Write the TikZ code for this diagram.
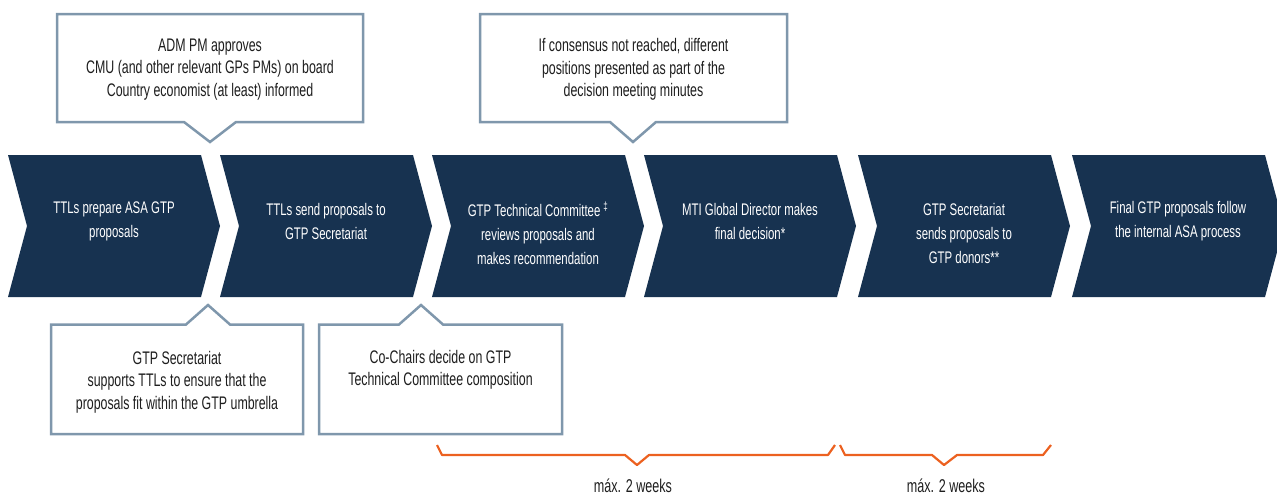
\documentclass[tikz,border=0pt]{standalone}
\usepackage{fontspec}
\setmainfont{Liberation Sans}[FakeStretch=0.68]
\definecolor{navy}{RGB}{23,50,80}
\definecolor{frame}{RGB}{127,151,172}
\definecolor{spanline}{RGB}{236,97,32}
\definecolor{ink}{RGB}{30,30,30}

\begin{document}
\begin{tikzpicture}[x=1pt,y=-1pt,
  chev/.style={fill=navy},
  steptext/.style={text=white, font=\fontsize{16.8}{24}\selectfont, align=center, inner sep=0pt},
  note/.style={draw=frame, line width=2.5pt, fill=white, line join=miter},
  notetext/.style={text=ink, font=\fontsize{18.2}{22.5}\selectfont, align=center, inner sep=0pt},
  span/.style={draw=spanline, line width=2.2pt, line join=round},
  spantext/.style={text=ink, font=\fontsize{18.5}{20}\selectfont, inner sep=0pt}]

\useasboundingbox (0,0) rectangle (1277,496);

% process chevrons
\foreach \L in {8,220,432,644,858,1072}{
  \fill[chev] (\L,155) -- ({\L+193},155) -- ({\L+212},226) -- ({\L+193},297)
    -- (\L,297) -- ({\L+19},226) -- cycle;
}
\node[steptext] (s1) at (114,221.5) {TTLs prepare ASA GTP\\proposals};
\node[steptext] (s2) at (326,221.5) {TTLs send proposals to\\GTP Secretariat};
\node[steptext] (s3) at (538,233) {GTP Technical Committee\,\textsuperscript{‡}\\reviews proposals and\\makes recommendation};
\node[steptext] (s4) at (750,221.5) {MTI Global Director makes\\final decision*};
\node[steptext] (s5) at (964,233) {GTP Secretariat\\sends proposals to\\GTP donors**};
\node[steptext] (s6) at (1178,221.5) {Final GTP proposals follow\\the internal ASA process};

% callouts above the chevrons
\draw[note] (57,14) -- (363,14) -- (363,122) -- (236,122) -- (210,142) -- (184,122) -- (57,122) -- cycle;
\node[notetext] (n1) at (210,69.5) {ADM PM approves\\CMU (and other relevant GPs PMs) on board\\Country economist (at least) informed};

\draw[note] (480,14) -- (787,14) -- (787,122) -- (656,122) -- (633,142) -- (610,122) -- (480,122) -- cycle;
\node[notetext] (n2) at (633.5,69.5) {If consensus not reached, different\\positions presented as part of the\\decision meeting minutes};

% callouts below the chevrons
\draw[note] (51,324.5) -- (186,324.5) -- (208,305) -- (230,324.5) -- (303,324.5) -- (303,434) -- (51,434) -- cycle;
\node[notetext] (n3) at (177,382) {GTP Secretariat\\supports TTLs to ensure that the\\proposals fit within the GTP umbrella};

\draw[note] (319,324.5) -- (399,324.5) -- (421,305) -- (443,324.5) -- (562,324.5) -- (562,434) -- (319,434) -- cycle;
\node[notetext] (n4) at (440.5,370) {Co-Chairs decide on GTP\\Technical Committee composition};

% duration braces
\draw[span] (437,445) -- (442,455) -- (625,455) -- (637,465) -- (649,455) -- (828,455) -- (835,445);
\node[spantext] (w1) at (633,485.5) {máx. 2 weeks};
\draw[span] (840,445) -- (845,455) -- (932,455) -- (944,465) -- (957,455) -- (1043,455) -- (1051,445);
\node[spantext] (w2) at (946,485.5) {máx. 2 weeks};
\end{tikzpicture}
\end{document}
